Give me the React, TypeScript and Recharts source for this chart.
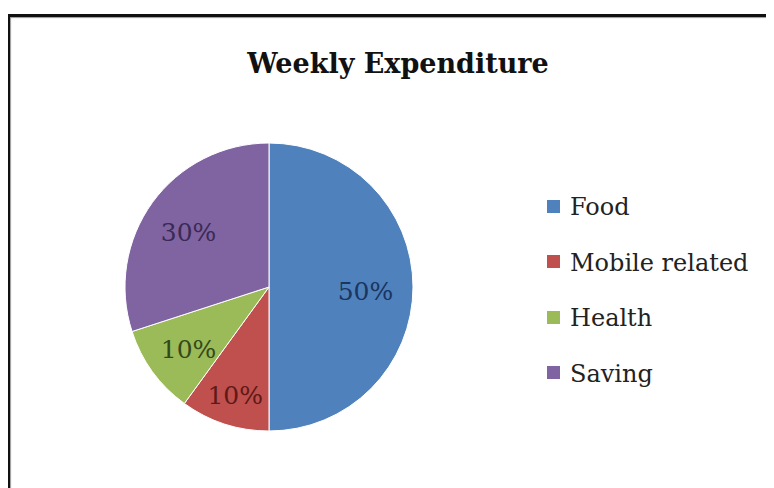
import { PieChart, Pie, Cell, Legend } from 'recharts'

// ─── Data ─────────────────────────────────────────────────────────────────────

const TITLE = 'Weekly Expenditure'
const categories = ['Food', 'Mobile related', 'Health', 'Saving']
const shares = [50, 10, 10, 30]

// ─── Styling ──────────────────────────────────────────────────────────────────

const FONT = "'DejaVu Serif', 'Liberation Serif', serif"
const SLICE_COLORS = ['#4F81BD', '#C0504D', '#9BBB59', '#8064A2']
const LABEL_COLORS = ['#1A3560', '#5E1A19', '#34491A', '#3A2A55']
const LABEL_RADIUS = [0.67, 0.76, 0.69, 0.69]

const data = categories.map((name, i) => ({ name, value: shares[i] }))

const RAD = Math.PI / 180

interface LabelProps {
  cx: number
  cy: number
  midAngle: number
  outerRadius: number
  percent: number
  index: number
}

function SliceLabel({ cx, cy, midAngle, outerRadius, percent, index }: LabelProps) {
  const r = outerRadius * LABEL_RADIUS[index]
  const x = cx + r * Math.cos(-midAngle * RAD)
  const y = cy + r * Math.sin(-midAngle * RAD) + 4
  return (
    <text
      x={x}
      y={y}
      fill={LABEL_COLORS[index]}
      textAnchor="middle"
      dominantBaseline="central"
      style={{ fontFamily: FONT, fontSize: 25 }}
    >
      {`${Math.round(percent * 100)}%`}
    </text>
  )
}

function LegendBox() {
  return (
    <div style={{ fontFamily: FONT, fontSize: 24, color: '#222' }}>
      {categories.map((name, i) => (
        <div key={name} style={{ display: 'flex', alignItems: 'center', height: 55.5 }}>
          <div
            style={{
              width: 13,
              height: 13,
              marginTop: -3,
              marginRight: 10,
              backgroundColor: SLICE_COLORS[i],
            }}
          />
          <span style={{ lineHeight: '55.5px', whiteSpace: 'nowrap' }}>{name}</span>
        </div>
      ))}
    </div>
  )
}

export default function App() {
  return (
    <div style={{ position: 'relative', width: 766, height: 480, overflow: 'hidden', background: '#fff' }}>
      {/* frame, cropped on the right and bottom */}
      <div
        style={{
          position: 'absolute',
          left: -1,
          top: 6,
          width: 900,
          height: 700,
          borderTop: '3px solid #111',
          borderLeft: '3px solid #111',
          boxShadow: 'inset 1px 1px 1px #999',
        }}
      />
      <div
        style={{
          position: 'absolute',
          left: 190,
          top: 41,
          width: 400,
          textAlign: 'center',
          fontFamily: FONT,
          fontWeight: 700,
          fontSize: 27,
          lineHeight: '30px',
          color: '#111',
        }}
      >
        {TITLE}
      </div>
      <div style={{ position: 'absolute', left: 0, top: 0 }}>
        <PieChart width={766} height={480}>
          <Pie
            data={data}
            dataKey="value"
            nameKey="name"
            cx={256}
            cy={274}
            outerRadius={144}
            startAngle={90}
            endAngle={-270}
            stroke="#fff"
            strokeWidth={1}
            labelLine={false}
            label={SliceLabel}
            isAnimationActive={false}
          >
            {data.map((d, i) => (
              <Cell key={d.name} fill={SLICE_COLORS[i]} />
            ))}
          </Pie>
          <Legend
            content={() => <LegendBox />}
            wrapperStyle={{ left: 539, top: 172, width: 225 }}
          />
        </PieChart>
      </div>
    </div>
  )
}
